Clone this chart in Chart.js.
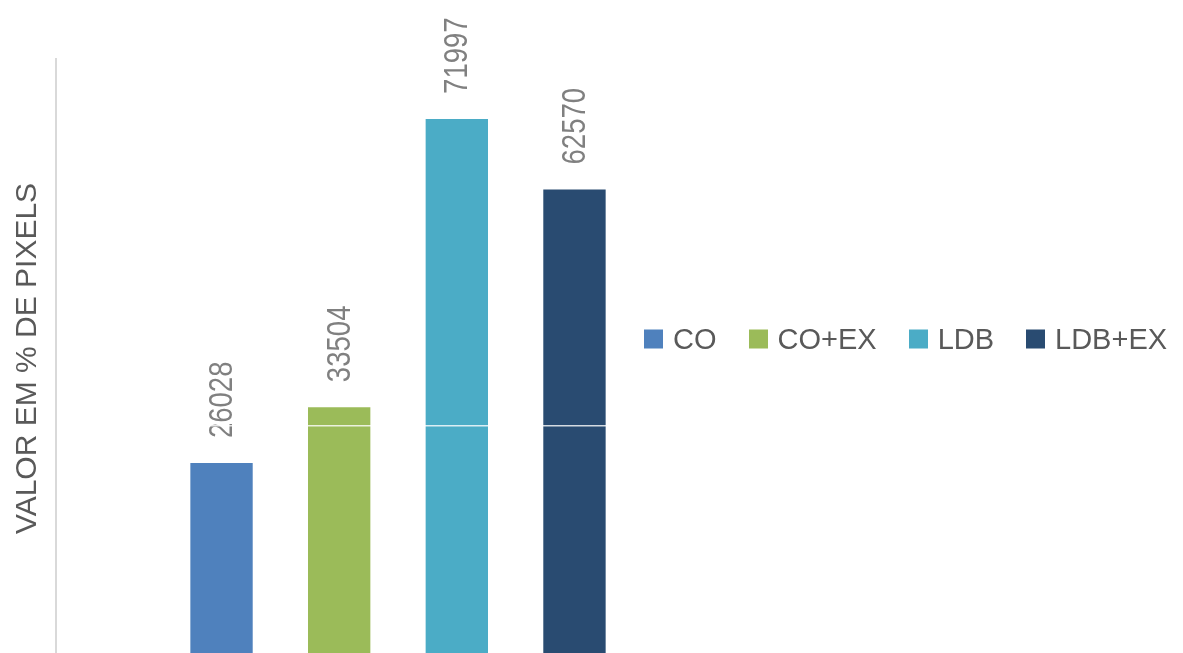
<!DOCTYPE html>
<html>
<head>
<meta charset="utf-8">
<script src="https://cdn.jsdelivr.net/npm/chart.js@4.4.1/dist/chart.umd.min.js"></script>
<style>
  html, body { margin: 0; padding: 0; background: #ffffff; }
  #frame { position: relative; width: 1183px; height: 653px; overflow: hidden; background: #ffffff; }
  #wrap { position: absolute; left: 0; top: 0; width: 1183px; height: 680px; }
  #legend { position: absolute; left: 644px; top: 339px; transform: translateY(-50%);
    display: flex; align-items: center; font-family: 'Liberation Sans', Arial, sans-serif;
    font-size: 29px; line-height: 1; color: #595959; white-space: nowrap; }
  .item { display: flex; align-items: center; margin-right: 32px; }
  .item:last-child { margin-right: 0; }
  .sw { width: 19px; height: 19px; margin-right: 10px; }
</style>
</head>
<body>
<div id="frame">
  <div id="wrap"><canvas id="c"></canvas></div>
  <div id="legend"></div>
</div>
<script>
const categories = [''];
const seriesNames = ['CO', 'CO+EX', 'LDB', 'LDB+EX'];
const seriesValues = [[26028], [33504], [71997], [62570]];
const seriesColors = ['#4f81bd', '#9bbb59', '#4bacc6', '#294b71'];
const yTitle = 'VALOR EM % DE PIXELS';
const yMin = 0, yMax = 80000;
const gridTicks = [31000];

const FONT = "'Liberation Sans', Arial, sans-serif";

const labelPlugin = {
  id: 'valueLabels',
  afterDatasetsDraw(chart) {
    const ctx = chart.ctx;
    chart.data.datasets.forEach((ds, i) => {
      const meta = chart.getDatasetMeta(i);
      meta.data.forEach((el, j) => {
        ctx.save();
        ctx.translate(el.x + 1, el.y - 25);
        ctx.rotate(-Math.PI / 2);
        ctx.scale(0.81, 1);
        ctx.font = '34px ' + FONT;
        ctx.fillStyle = '#808080';
        ctx.textAlign = 'left';
        ctx.textBaseline = 'middle';
        ctx.fillText(String(ds.data[j]), 0, 0);
        ctx.restore();
      });
    });
  }
};

const datasets = seriesNames.map((n, i) => ({
  label: n,
  data: seriesValues[i],
  backgroundColor: seriesColors[i],
  categoryPercentage: 0.688,
  barPercentage: 0.53
}));

new Chart(document.getElementById('c'), {
  type: 'bar',
  data: { labels: categories, datasets },
  options: {
    responsive: true,
    maintainAspectRatio: false,
    animation: false,
    layout: { padding: { left: 7, right: 443, top: 59, bottom: 22 } },
    plugins: { legend: { display: false }, tooltip: { enabled: false } },
    scales: {
      x: { display: false },
      y: {
        min: yMin, max: yMax,
        afterBuildTicks: (scale) => { scale.ticks = gridTicks.map(v => ({ value: v })); },
        ticks: { display: false },
        grid: { z: 1, color: 'rgba(255,255,255,0.8)', lineWidth: 1.5, drawTicks: false },
        border: { display: true, color: '#d9d9d9', width: 2, z: 2 },
        title: { display: true, text: yTitle, color: '#595959',
          font: { family: FONT, size: 30 }, padding: { top: 3, bottom: 10 } }
      }
    }
  },
  plugins: [labelPlugin]
});

const lg = document.getElementById('legend');
seriesNames.forEach((n, i) => {
  const it = document.createElement('div');
  it.className = 'item';
  const sw = document.createElement('span');
  sw.className = 'sw';
  sw.style.background = seriesColors[i];
  const t = document.createElement('span');
  t.textContent = n;
  it.appendChild(sw); it.appendChild(t);
  lg.appendChild(it);
});
</script>
</body>
</html>
